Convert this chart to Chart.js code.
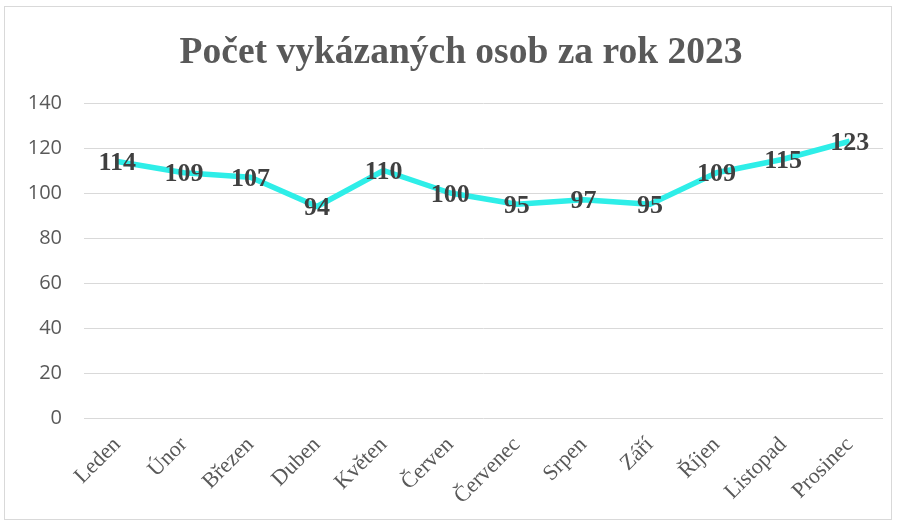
<!DOCTYPE html>
<html>
<head>
<meta charset="utf-8">
<script src="https://cdn.jsdelivr.net/npm/chart.js@4.4.1/dist/chart.umd.min.js"></script>
<style>
  html, body { margin: 0; padding: 0; background: #ffffff; }
  #box { position: absolute; left: 4px; top: 6px; width: 888px; height: 514px; border: 1px solid #d9d9d9; box-sizing: border-box; }
  #c { display: block; }
</style>
</head>
<body>
<div id="box"><canvas id="c" width="886" height="512"></canvas></div>
<script>
const chartTitle = 'Počet vykázaných osob za rok 2023';
const categories = ['Leden', 'Únor', 'Březen', 'Duben', 'Květen', 'Červen', 'Červenec', 'Srpen', 'Září', 'Říjen', 'Listopad', 'Prosinec'];
const persons = [114, 109, 107, 94, 110, 100, 95, 97, 95, 109, 115, 123];
const yTicks = [0, 20, 40, 60, 80, 100, 120, 140];

const valueLabels = {
  id: 'valueLabels',
  afterDatasetsDraw(chart) {
    const ctx = chart.ctx;
    const meta = chart.getDatasetMeta(0);
    ctx.save();
    ctx.font = 'bold 26px "Liberation Serif", "Times New Roman", serif';
    ctx.fillStyle = '#404040';
    ctx.textAlign = 'center';
    ctx.textBaseline = 'middle';
    meta.data.forEach((pt, i) => {
      ctx.fillText(String(chart.data.datasets[0].data[i]), pt.x, pt.y + 2);
    });
    ctx.restore();
  }
};

const titleShift = {
  id: 'titleShift',
  afterLayout(chart) {
    if (chart.titleBlock) { chart.titleBlock.left = 34; }
  }
};

new Chart(document.getElementById('c'), {
  type: 'line',
  data: {
    labels: categories,
    datasets: [{
      data: persons,
      borderColor: '#2EEEE8',
      borderWidth: 5.5,
      pointRadius: 0,
      pointHoverRadius: 0,
      tension: 0,
      borderJoinStyle: 'round',
      fill: false
    }]
  },
  options: {
    responsive: false,
    animation: false,
    events: [],
    layout: { padding: { left: 0, right: 8, top: 0, bottom: 0 } },
    plugins: {
      legend: { display: false },
      tooltip: { enabled: false },
      title: {
        display: true,
        text: chartTitle,
        color: '#595959',
        font: { family: '"Liberation Serif", "Times New Roman", serif', size: 37.5, weight: 'bold', lineHeight: 1.2 },
        padding: { top: 24, bottom: 27 }
      }
    },
    scales: {
      x: {
        offset: true,
        grid: { display: false, drawTicks: false },
        border: { display: false },
        ticks: {
          color: '#595959',
          font: { family: '"Liberation Serif", "Times New Roman", serif', size: 22 },
          minRotation: 45,
          maxRotation: 45,
          padding: 14,
          autoSkip: false
        },
        afterFit(scale) { scale.height = 101; }
      },
      y: {
        min: 0,
        max: 140,
        grid: { color: '#d9d9d9', lineWidth: 1, drawTicks: false },
        border: { display: false },
        afterBuildTicks(scale) { scale.ticks = yTicks.map(v => ({ value: v })); },
        ticks: {
          color: '#595959',
          font: { family: '"Open Sans", "Noto Sans", sans-serif', size: 20 },
          padding: 22
        },
        afterFit(scale) { scale.width = 79; }
      }
    }
  },
  plugins: [valueLabels, titleShift]
});
</script>
</body>
</html>
